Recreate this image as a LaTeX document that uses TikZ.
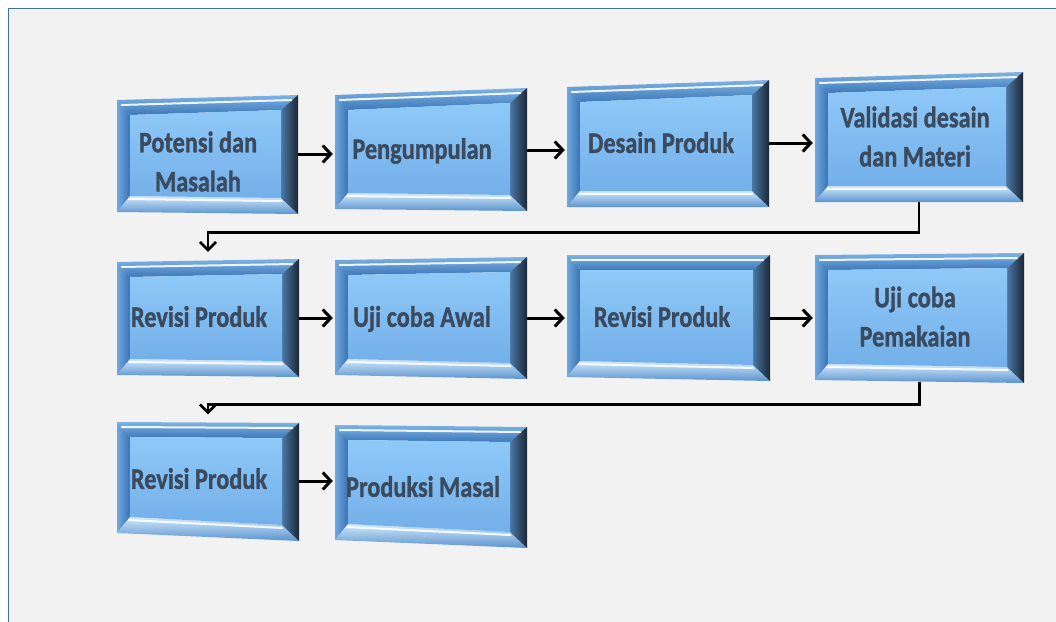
\documentclass[tikz,border=0pt]{standalone}
\usepackage{fontspec}
\setmainfont{Carlito}
\newfontfamily\boxfont{Carlito}[BoldFeatures={FakeBold=1.3}]
\usetikzlibrary{calc,arrows.meta}
\definecolor{bgc}{HTML}{F2F2F2}
\definecolor{frm}{HTML}{41719C}
\definecolor{txtc}{HTML}{3A4A5F}
\definecolor{facetop}{HTML}{8FC9F8}
\definecolor{facebot}{HTML}{73AFE9}
\definecolor{toptop}{HTML}{7DB3E6}
\definecolor{topbot}{HTML}{3D78B7}
\definecolor{leftout}{HTML}{6FA8E0}
\definecolor{leftin}{HTML}{3A72B2}
\definecolor{bottop}{HTML}{D2E8FB}
\definecolor{botbot}{HTML}{5A94CF}
\definecolor{rightin}{HTML}{4A78A6}
\definecolor{rightout}{HTML}{1B2635}
\newcommand\bt[1]{\scalebox{1}[1.22]{\begin{tabular}{@{}c@{}}#1\end{tabular}}}
\newcommand\bevelbox[8]{%
  \coordinate (TL) at (#1,#2); \coordinate (TR) at (#3,#4);
  \coordinate (BR) at (#5,#6); \coordinate (BL) at (#7,#8);
  \coordinate (iTL) at ($(TL)+(13,15)$); \coordinate (iTR) at ($(TR)+(-17,15)$);
  \coordinate (iBR) at ($(BR)+(-17,-16)$); \coordinate (iBL) at ($(BL)+(13,-16)$);
  \shade[top color=toptop,bottom color=topbot] (TL)--(TR)--(iTR)--(iTL)--cycle;
  \shade[left color=leftout,right color=leftin] (TL)--(iTL)--(iBL)--(BL)--cycle;
  \shade[top color=bottop,bottom color=botbot] (BL)--(iBL)--(iBR)--(BR)--cycle;
  \shade[left color=rightin,right color=rightout] (TR)--(BR)--(iBR)--(iTR)--cycle;
  \shade[top color=facetop,bottom color=facebot] (iTL)--(iTR)--(iBR)--(iBL)--cycle;
  \draw[white,line width=2pt,opacity=0.9] ($(TL)+(4,5)$) -- ($(TR)+(-6,5)$);
  \draw[white,line width=2pt,opacity=0.9] ($(iBL)+(-2,3)$) -- ($(iBR)+(1,3)$);
}
\tikzset{
  boxnode/.style={rectangle,inner sep=0pt},
  txt/.style={text=txtc,font=\boxfont\fontsize{24.3}{32}\selectfont\bfseries,inner sep=0pt},
  arr/.style={line width=3pt,-{Straight Barb[length=8pt,width=17pt]},shorten >=2pt},
  elb/.style={line width=2.6pt,-{Straight Barb[length=8pt,width=16pt]}},
}
\begin{document}
\begin{tikzpicture}[x=1pt,y=-1pt]
\useasboundingbox (0,0) rectangle (1056,621);
\clip (0,0) rectangle (1056,621);
\fill[white] (0,0) rectangle (1056,621);
\draw[fill=bgc,draw=frm,line width=1.8pt] (8.5,8.5) rectangle (1080,650);

\bevelbox{117}{100}{298}{95}{298}{214}{117}{212}
\bevelbox{335}{95}{527}{88}{527}{211}{335}{209}
\bevelbox{567}{87}{769}{80}{769}{207}{567}{207}
\bevelbox{815}{78}{1023}{72}{1023}{202}{815}{202}
\bevelbox{117}{262}{299}{259}{299}{377}{117}{375}
\bevelbox{335}{260}{527}{257}{527}{379}{335}{375}
\bevelbox{567}{255}{770}{255}{770}{381}{567}{377}
\bevelbox{815}{255}{1024}{253}{1024}{383}{815}{380}
\bevelbox{117}{422}{299}{423}{299}{541}{117}{533}
\bevelbox{335}{425}{527}{427}{527}{548}{335}{540}

\node[boxnode,minimum width=181pt,minimum height=116pt] (b1) at (207.5,154) {};
\node[boxnode,minimum width=192pt,minimum height=119pt] (b2) at (431,150) {};
\node[boxnode,minimum width=202pt,minimum height=124pt] (b3) at (668,143) {};
\node[boxnode,minimum width=208pt,minimum height=127pt] (b4) at (919,138.5) {};
\node[boxnode,minimum width=182pt,minimum height=116pt] (b5) at (208,318) {};
\node[boxnode,minimum width=192pt,minimum height=119pt] (b6) at (431,318) {};
\node[boxnode,minimum width=203pt,minimum height=124pt] (b7) at (668.5,318) {};
\node[boxnode,minimum width=209pt,minimum height=128pt] (b8) at (919.5,318) {};
\node[boxnode,minimum width=182pt,minimum height=115pt] (b9) at (208,481) {};
\node[boxnode,minimum width=192pt,minimum height=118pt] (b10) at (431,485) {};

\node[txt] (t1) at (198,164) {\bt{Potensi dan\\Masalah}};
\node[txt] (t2) at (422,151) {\bt{Pengumpulan}};
\node[txt] (t3) at (661,145) {\bt{Desain Produk}};
\node[txt] (t4) at (915,139) {\bt{Validasi desain\\dan Materi}};
\node[txt] (t5) at (199,319) {\bt{Revisi Produk}};
\node[txt] (t6) at (422,319) {\bt{Uji coba Awal}};
\node[txt] (t7) at (662,319) {\bt{Revisi Produk}};
\node[txt] (t8) at (915,319) {\bt{Uji coba\\Pemakaian}};
\node[txt] (t9) at (199,481) {\bt{Revisi Produk}};
\node[txt] (t10) at (423,489) {\bt{Produksi Masal}};

\draw[arr] (b1.east) -- (b1.east -| b2.west);
\draw[arr] (b2.east) -- (b2.east -| b3.west);
\draw[arr] (b3.east) -- (b3.east -| b4.west);
\draw[arr] (b5.east) -- (b5.east -| b6.west);
\draw[arr] (b6.east) -- (b6.east -| b7.west);
\draw[arr] (b7.east) -- (b7.east -| b8.west);
\draw[arr] (b9.east) -- (b9.east -| b10.west);
\draw[elb,shorten >=8pt] (b4.south) -- ++(0,30) -| (b5.north);
\draw[elb,shorten >=9pt] (b8.south) -- ++(0,22) -| (b9.north);
\end{tikzpicture}
\end{document}
